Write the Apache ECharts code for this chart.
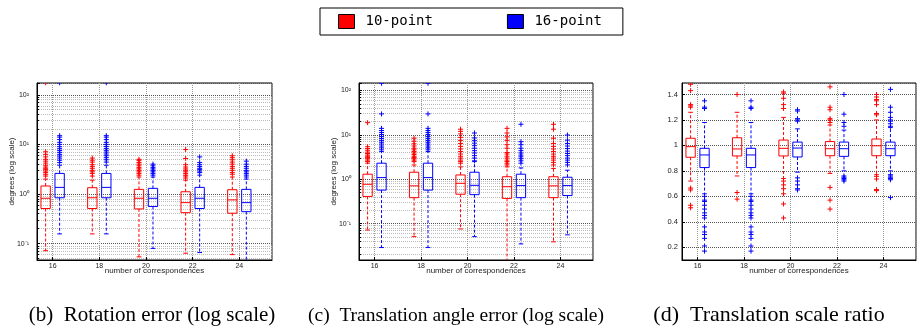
<!DOCTYPE html>
<html>
<head>
<meta charset="utf-8">
<script src="https://cdn.jsdelivr.net/npm/echarts@6/dist/echarts.min.js"></script>
<style>
  html, body { margin: 0; padding: 0; background: #fff; }
  #chart { width: 918px; height: 329px; }
</style>
</head>
<body>
<div id="chart"></div>
<script>
var counts = [16, 18, 20, 22, 24];
var seriesNames = ['10-point', '16-point'];
var captions = ['(b)  Rotation error (log scale)', '(c)  Translation angle error (log scale)', '(d)  Translation scale ratio'];
var xName = 'number of correspondences';
var yName = 'degrees (log scale)';

// box stats per count: [lower whisker, q1, median, q3, upper whisker]
var rotBox10 = [[0.072, 0.51, 0.82, 1.45, 2.0], [0.157, 0.51, 0.84, 1.34, 1.9], [0.054, 0.50, 0.82, 1.24, 2.2], [0.064, 0.42, 0.67, 1.11, 1.9], [0.060, 0.41, 0.76, 1.22, 2.2]];
var rotBox16 = [[0.157, 0.84, 1.36, 2.6, 3.8], [0.157, 0.84, 1.36, 2.6, 3.8], [0.080, 0.56, 0.82, 1.30, 2.2], [0.066, 0.51, 0.82, 1.36, 2.4], [0.040, 0.44, 0.67, 1.24, 2.0]];
var rotOut10 = [
  [2.3, 2.5, 2.7, 2.9, 3.1, 3.3, 3.5, 3.8, 4.2, 4.6, 5.0, 5.6, 6.3, 7.1, 175],
  [2.3, 2.6, 2.8, 3.0, 3.3, 3.6, 3.9, 4.4, 4.8, 5.3],
  [2.4, 2.6, 2.8, 3.0, 3.2, 3.4, 3.7, 4.0, 4.3, 4.7, 5.0],
  [2.1, 2.3, 2.4, 2.6, 2.8, 3.0, 3.2, 3.5, 3.9, 5.2, 7.9],
  [2.5, 2.7, 3.0, 3.3, 3.6, 4.0, 4.4, 4.9, 5.4, 5.9]
];
var rotOut16 = [
  [4.3, 4.8, 5.3, 5.8, 6.3, 6.9, 7.5, 8.2, 9.0, 10, 11, 12.5, 14, 15, 175],
  [4.4, 4.9, 5.4, 5.9, 6.4, 7.0, 7.6, 8.3, 9.1, 10, 11, 12.5, 14, 15, 175],
  [2.4, 2.6, 2.8, 3.0, 3.2, 3.4, 3.7, 4.0],
  [2.7, 2.9, 3.1, 3.3, 3.6, 3.9, 4.3, 5.6],
  [2.2, 2.4, 2.6, 2.8, 3.0, 3.3, 3.6, 4.0, 4.6]
];

var angBox10 = [[0.072, 0.41, 0.77, 1.30, 2.3], [0.051, 0.385, 0.71, 1.44, 2.1], [0.076, 0.46, 0.81, 1.25, 1.9], [0.012, 0.37, 0.68, 1.14, 1.9], [0.039, 0.385, 0.71, 1.14, 1.75]];
var angBox16 = [[0.029, 0.57, 1.09, 2.3, 4.2], [0.029, 0.57, 1.09, 2.3, 4.2], [0.051, 0.45, 0.73, 1.44, 2.5], [0.035, 0.385, 0.72, 1.30, 1.8], [0.056, 0.43, 0.72, 1.11, 1.6]];
var angOut10 = [
  [2.5, 2.7, 2.9, 3.1, 3.3, 3.5, 3.8, 4.1, 4.5, 4.9, 5.4, 18.8],
  [2.5, 2.7, 2.9, 3.1, 3.3, 3.6, 3.9, 4.2, 4.6, 5.0, 5.6, 6.3, 7.2, 8.4],
  [2.3, 2.5, 2.7, 3.0, 3.3, 3.7, 4.2, 4.8, 5.5, 6.4, 7.5, 8.8, 10.5, 12.0, 13.4],
  [2.1, 2.3, 2.5, 2.7, 3.0, 3.3, 3.7, 4.0, 5.0, 6.0, 7.5, 9.0, 11, 14],
  [2.1, 2.4, 2.7, 3.0, 3.3, 3.7, 4.2, 4.8, 5.5, 6.4, 8.4, 13.4, 17.3]
];
var angOut16 = [
  [4.6, 5.1, 5.6, 6.2, 6.8, 7.5, 8.3, 9.2, 10.2, 11.3, 12.5, 14, 29.6, 145],
  [4.6, 5.1, 5.6, 6.2, 6.8, 7.5, 8.3, 9.2, 10.2, 11.3, 12.5, 14, 29.6, 145],
  [2.6, 3.0, 3.4, 3.9, 4.4, 5.0, 5.7, 6.5, 7.4, 8.5, 11],
  [2.3, 2.6, 2.9, 3.2, 3.5, 3.9, 4.4, 5.0, 6.0, 7.0, 17.3],
  [2.1, 2.4, 2.7, 3.0, 3.4, 3.8, 4.3, 4.9, 5.6, 6.4, 7.6, 9.9]
];

var ratioBox10 = [[0.72, 0.907, 0.99, 1.056, 1.26], [0.76, 0.917, 0.972, 1.06, 1.26], [0.74, 0.917, 0.977, 1.042, 1.22], [0.78, 0.919, 0.974, 1.03, 1.16], [0.77, 0.919, 0.997, 1.05, 1.20]];
var ratioBox16 = [[0.62, 0.826, 0.925, 0.977, 1.18], [0.62, 0.826, 0.925, 0.977, 1.18], [0.79, 0.909, 0.979, 1.026, 1.13], [0.80, 0.914, 0.974, 1.026, 1.12], [0.80, 0.919, 0.974, 1.026, 1.14]];
var ratioOut10 = [
  [0.51, 0.53, 0.65, 0.665, 1.30, 1.31, 1.32, 1.43, 1.48],
  [0.578, 0.63, 1.40],
  [0.43, 0.54, 0.62, 0.66, 0.69, 0.72, 1.29, 1.32, 1.37, 1.41, 1.42],
  [0.50, 0.57, 0.67, 1.18, 1.20, 1.21, 1.28, 1.30, 1.46],
  [0.645, 0.653, 0.736, 0.757, 1.24, 1.25, 1.32, 1.35, 1.36, 1.38, 1.40]
];
var ratioOut16 = [
  [0.17, 0.21, 0.27, 0.30, 0.32, 0.36, 0.43, 0.45, 0.47, 0.50, 0.53, 0.56, 0.57, 0.60, 1.29, 1.30, 1.35],
  [0.17, 0.21, 0.27, 0.30, 0.32, 0.36, 0.43, 0.45, 0.47, 0.50, 0.53, 0.56, 0.57, 0.60, 1.29, 1.30, 1.35],
  [0.65, 0.66, 0.69, 0.72, 0.745, 1.19, 1.20, 1.21, 1.27, 1.28],
  [0.72, 0.73, 0.74, 0.75, 0.76, 1.15, 1.18, 1.245, 1.40],
  [0.59, 0.73, 0.74, 0.75, 0.76, 0.77, 1.15, 1.17, 1.19, 1.20, 1.22, 1.26, 1.30, 1.44]
];

var red = '#ff0000';
var blue = '#0000ff';
var sansFont = 'Liberation Sans';

var chart = echarts.init(document.getElementById('chart'));

function boxData(stats) {
  return stats.map(function (s, i) { return [counts[i]].concat(s); });
}

function outlierData(lists) {
  var out = [];
  lists.forEach(function (vals, i) {
    vals.forEach(function (v) { out.push([counts[i], v]); });
  });
  return out;
}

// matlab style box: solid box + median, dashed whiskers, short caps
function renderBox(offset, color) {
  return function (params, api) {
    var x = api.value(0) + offset;
    var pt = function (dx, v) { return api.coord([x + dx, v]); };
    var lo = api.value(1), q1 = api.value(2), md = api.value(3), q3 = api.value(4), hi = api.value(5);
    var l = pt(-0.2, q1)[0], r = pt(0.2, q1)[0], c = pt(0, q1)[0];
    var cl = pt(-0.1, q1)[0], cr = pt(0.1, q1)[0];
    var yLo = pt(0, lo)[1], y1 = pt(0, q1)[1], yM = pt(0, md)[1], y3 = pt(0, q3)[1], yHi = pt(0, hi)[1];
    var solid = { stroke: color, lineWidth: 1, fill: 'none' };
    var dashed = { stroke: color, lineWidth: 1, lineDash: [3, 2] };
    return {
      type: 'group',
      children: [
        { type: 'line', shape: { x1: c, y1: y3, x2: c, y2: yHi }, style: dashed },
        { type: 'line', shape: { x1: c, y1: y1, x2: c, y2: yLo }, style: dashed },
        { type: 'line', shape: { x1: cl, y1: yHi, x2: cr, y2: yHi }, style: solid },
        { type: 'line', shape: { x1: cl, y1: yLo, x2: cr, y2: yLo }, style: solid },
        { type: 'rect', shape: { x: l, y: y3, width: r - l, height: y1 - y3 }, style: solid },
        { type: 'line', shape: { x1: l, y1: yM, x2: r, y2: yM }, style: solid }
      ]
    };
  };
}

function renderPlus(offset, color) {
  return function (params, api) {
    var p = api.coord([api.value(0) + offset, api.value(1)]);
    var st = { stroke: color, lineWidth: 1 };
    return {
      type: 'group',
      children: [
        { type: 'line', shape: { x1: p[0] - 2.5, y1: p[1], x2: p[0] + 2.5, y2: p[1] }, style: st },
        { type: 'line', shape: { x1: p[0], y1: p[1] - 2.5, x2: p[0], y2: p[1] + 2.5 }, style: st }
      ]
    };
  };
}

var sup = { '0': '\u2070', '1': '\u00b9', '2': '\u00b2', '3': '\u00b3', '-': '\u207b' };
function powLabel(v) {
  var e = String(Math.round(Math.log10(v)));
  return '10' + e.split('').map(function (ch) { return sup[ch] || ch; }).join('');
}

var grids = [
  { left: 37, top: 83, width: 235, height: 177 },
  { left: 359, top: 83, width: 234, height: 177 },
  { left: 682, top: 83, width: 234, height: 177 }
];
grids.forEach(function (g) { g.show = true; g.borderColor = '#000'; g.borderWidth = 1; });

var xAxes = grids.map(function (g, i) {
  return {
    gridIndex: i,
    type: 'value',
    min: 15.33,
    max: 25.4,
    splitNumber: 5,
    name: xName,
    nameLocation: 'middle',
    nameGap: 7,
    nameMoveOverlap: false,
    nameTextStyle: { fontSize: 8, color: '#222', fontFamily: sansFont },
    axisLine: { show: true, onZero: false, lineStyle: { color: '#000', width: 1 } },
    axisTick: { show: true, inside: true, length: 3, lineStyle: { color: '#000' } },
    axisLabel: { fontSize: 7, color: '#222', margin: 3, fontFamily: sansFont, showMinLabel: false, showMaxLabel: false },
    splitLine: { show: true, lineStyle: { type: 'dotted', color: '#999' } }
  };
});

function logAxis(i, min, max) {
  return {
    gridIndex: i,
    type: 'log',
    logBase: 10,
    min: min,
    max: max,
    name: yName,
    nameLocation: 'middle',
    nameGap: 21,
    nameMoveOverlap: false,
    nameTextStyle: { fontSize: 8, color: '#222', fontFamily: sansFont },
    axisLine: { show: true, lineStyle: { color: '#000', width: 1 } },
    axisTick: { show: true, inside: true, length: 3, lineStyle: { color: '#000' } },
    minorTick: { show: true, splitNumber: 9, length: 2, lineStyle: { color: '#000' } },
    axisLabel: { fontSize: 7, color: '#222', margin: 8, fontFamily: sansFont, showMinLabel: false, showMaxLabel: false, formatter: powLabel },
    splitLine: { show: true, lineStyle: { type: 'dotted', color: '#555' } },
    minorSplitLine: { show: true, lineStyle: { type: 'dotted', color: '#bbb' } }
  };
}

var yAxes = [
  logAxis(0, 0.0467, 173),
  logAxis(1, 0.0152, 147),
  {
    gridIndex: 2,
    type: 'value',
    min: 0.1,
    max: 1.49,
    splitNumber: 7,
    axisLine: { show: true, lineStyle: { color: '#000', width: 1 } },
    axisTick: { show: true, inside: true, length: 3, lineStyle: { color: '#000' } },
    axisLabel: { fontSize: 7.5, color: '#222', margin: 4, fontFamily: sansFont, showMinLabel: false, showMaxLabel: false },
    splitLine: { show: true, lineStyle: { type: 'dotted', color: '#555' } }
  }
];

var panels = [
  [rotBox10, rotBox16, rotOut10, rotOut16],
  [angBox10, angBox16, angOut10, angOut16],
  [ratioBox10, ratioBox16, ratioOut10, ratioOut16]
];

var series = [];
panels.forEach(function (p, i) {
  [[-0.3, red], [0.3, blue]].forEach(function (s, k) {
    series.push({
      type: 'custom',
      name: seriesNames[k],
      xAxisIndex: i,
      yAxisIndex: i,
      clip: true,
      silent: true,
      itemStyle: { color: s[1] },
      encode: { x: 0, y: [1, 2, 3, 4, 5] },
      data: boxData(p[k]),
      renderItem: renderBox(s[0], s[1])
    });
    series.push({
      type: 'custom',
      name: seriesNames[k],
      xAxisIndex: i,
      yAxisIndex: i,
      clip: true,
      silent: true,
      itemStyle: { color: s[1] },
      encode: { x: 0, y: 1 },
      data: outlierData(p[k + 2]),
      renderItem: renderPlus(s[0], s[1])
    });
  });
});

var captionX = [152, 456, 769];
var captionSize = [21, 19.5, 22];

var option = {
  backgroundColor: '#fff',
  animation: false,
  legend: {
    left: 320,
    top: 8,
    orient: 'horizontal',
    borderColor: '#000',
    borderWidth: 1,
    padding: [6, 21, 6, 18],
    itemWidth: 16,
    itemHeight: 14,
    itemGap: 74,
    selectedMode: false,
    textStyle: { fontSize: 14, color: '#000', fontFamily: 'DejaVu Sans Mono', padding: [0, 0, 0, 6] },
    data: [
      { name: seriesNames[0], icon: 'rect', itemStyle: { color: red, borderColor: '#000', borderWidth: 1 } },
      { name: seriesNames[1], icon: 'rect', itemStyle: { color: blue, borderColor: '#000', borderWidth: 1 } }
    ]
  },
  grid: grids,
  xAxis: xAxes,
  yAxis: yAxes,
  series: series,
  graphic: captions.map(function (t, i) {
    return {
      type: 'text',
      x: captionX[i],
      y: 326,
      silent: true,
      style: { text: t, fill: '#000', font: captionSize[i] + 'px "Liberation Serif"', textAlign: 'center', textVerticalAlign: 'bottom' }
    };
  })
};

chart.setOption(option);
</script>
</body>
</html>
